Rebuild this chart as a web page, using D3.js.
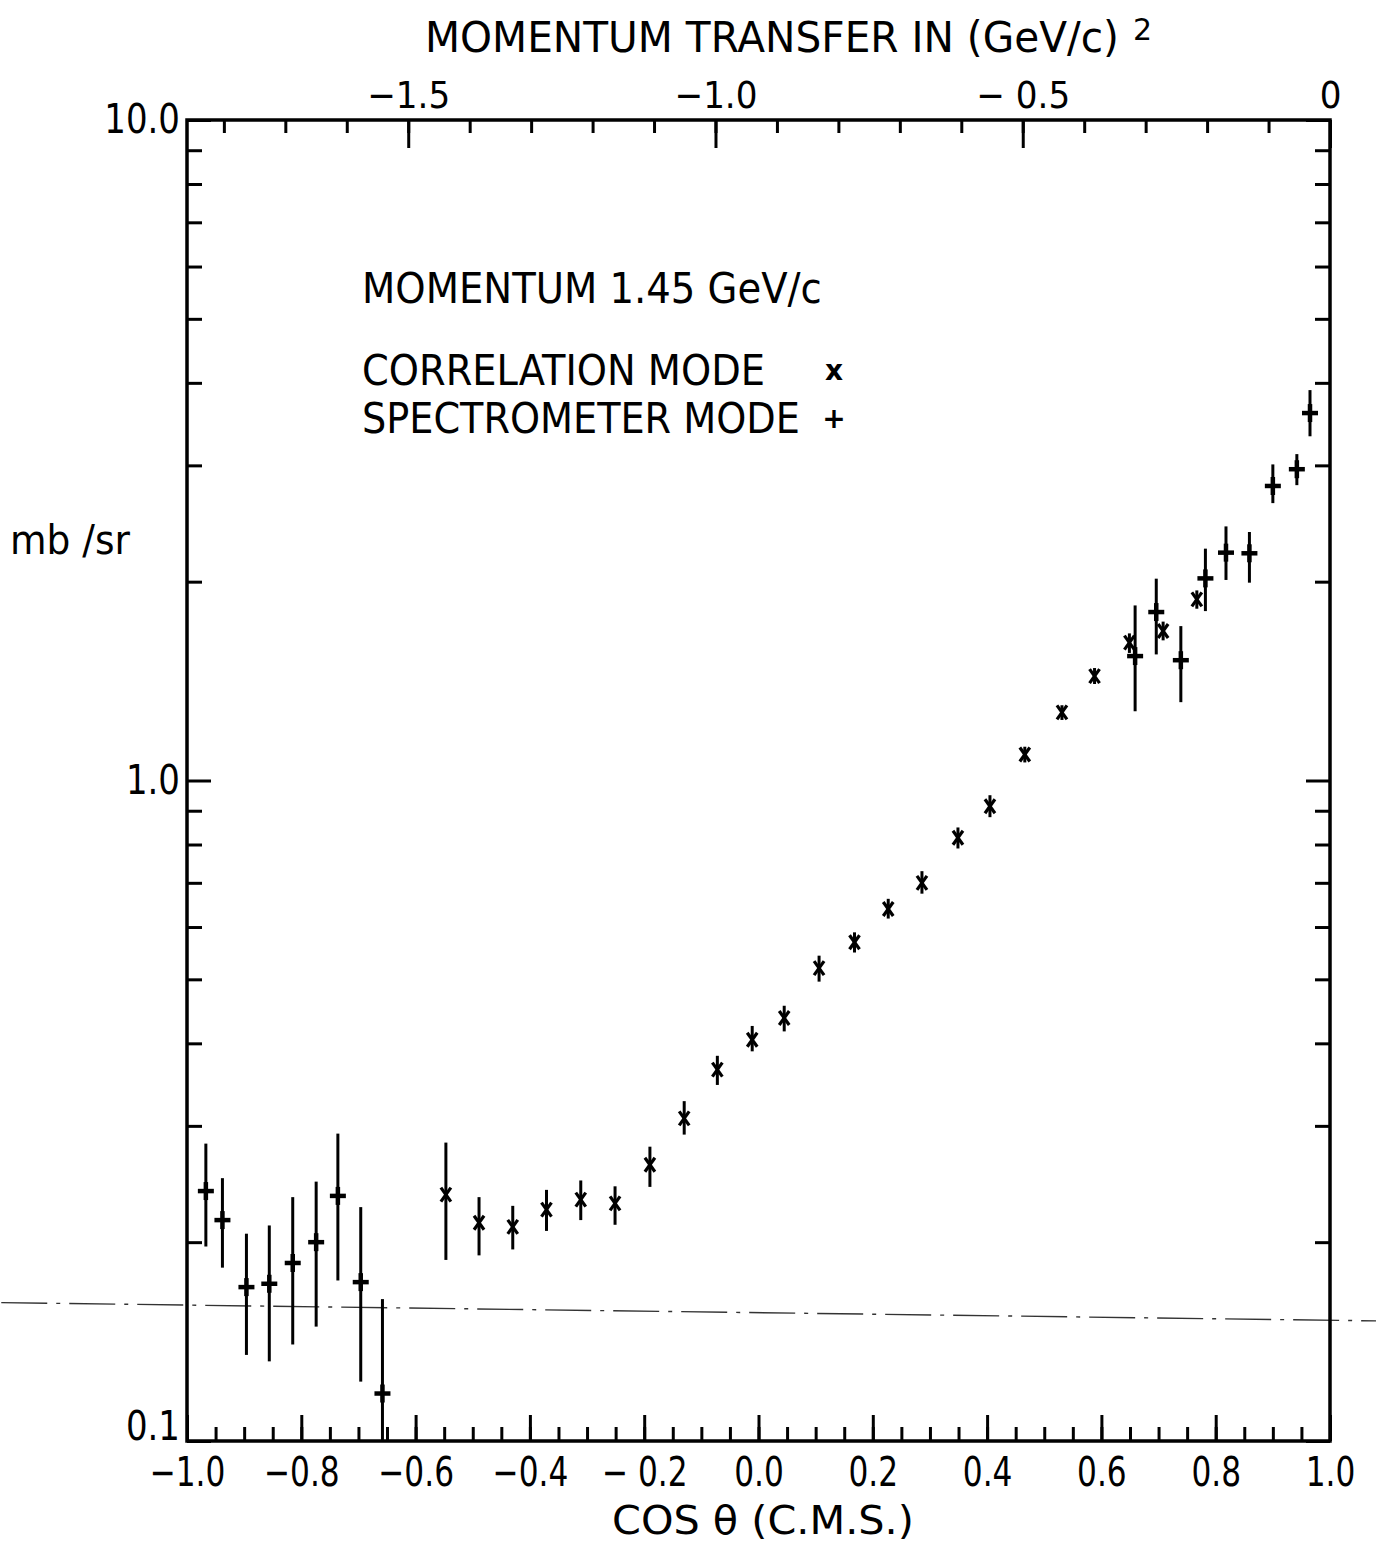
<!DOCTYPE html>
<html>
<head>
<meta charset="utf-8">
<script src="https://cdn.jsdelivr.net/npm/d3@7"></script>
<style>
  body { margin: 0; background: #fff; }
  svg { display: block; }
  text { font-family: "DejaVu Sans", sans-serif; fill: #000; }
</style>
</head>
<body>
<div id="chart"></div>
<script>
// Spectrometer mode (+) : cos theta, value, error low, error high (mb/sr)
const specCos = [-0.967, -0.938, -0.896, -0.856, -0.815, -0.774, -0.736, -0.696, -0.658,
                 0.659, 0.696, 0.739, 0.782, 0.818, 0.859, 0.900, 0.942, 0.965];
const specVal = [0.239, 0.216, 0.171, 0.173, 0.186, 0.200, 0.235, 0.174, 0.118,
                 1.543, 1.799, 1.521, 2.023, 2.213, 2.208, 2.792, 2.96, 3.60];
const specLo  = [0.197, 0.183, 0.135, 0.132, 0.140, 0.149, 0.175, 0.123, 0.100,
                 1.273, 1.552, 1.314, 1.805, 2.012, 1.993, 2.63, 2.80, 3.32];
const specHi  = [0.282, 0.250, 0.206, 0.212, 0.234, 0.247, 0.292, 0.226, 0.164,
                 1.841, 2.021, 1.713, 2.244, 2.425, 2.378, 3.01, 3.12, 3.90];

// Correlation mode (x)
const corrCos = [-0.547, -0.489, -0.430, -0.371, -0.311, -0.251, -0.190, -0.130, -0.072, -0.011,
                 0.045, 0.106, 0.168, 0.227, 0.286, 0.349, 0.405, 0.466, 0.531, 0.588,
                 0.649, 0.708, 0.767];
const corrVal = [0.236, 0.214, 0.211, 0.224, 0.232, 0.229, 0.262, 0.308, 0.365, 0.405,
                 0.437, 0.520, 0.569, 0.639, 0.700, 0.819, 0.914, 1.095, 1.268, 1.439,
                 1.617, 1.684, 1.88];
const corrLo  = [0.188, 0.191, 0.195, 0.208, 0.216, 0.2125, 0.2425, 0.291, 0.346, 0.389,
                 0.417, 0.496, 0.549, 0.618, 0.674, 0.789, 0.88, 1.065, 1.235, 1.40,
                 1.56, 1.63, 1.82];
const corrHi  = [0.283, 0.234, 0.227, 0.240, 0.248, 0.243, 0.279, 0.327, 0.383, 0.425,
                 0.456, 0.543, 0.589, 0.662, 0.729, 0.849, 0.95, 1.125, 1.30, 1.48,
                 1.67, 1.74, 1.94];

// Dash-dot reference line running across the whole sheet (ends beyond the frame)
const refCos = [-1.325, 1.081];
const refVal = [0.162, 0.152];

// Axis ticks and labels
const bottomMinor = d3.range(-1.0, 1.0001, 0.05).map(d => +d.toFixed(2));
const bottomMajor = [-1.0, -0.8, -0.6, -0.4, -0.2, 0.0, 0.2, 0.4, 0.6, 0.8, 1.0];
const bottomLabels = ["\u22121.0", "\u22120.8", "\u22120.6", "\u22120.4", "\u2212 0.2", "0.0", "0.2", "0.4", "0.6", "0.8", "1.0"];
const topMinor = d3.range(-1.8, 0.0001, 0.1).map(d => +d.toFixed(1));
const topMajor = [-1.5, -1.0, -0.5, 0];
const topLabels = ["\u22121.5", "\u22121.0", "\u2212 0.5", "0"];
const topDomain = [-1.86, 0];
const yMinor = [0.2, 0.3, 0.4, 0.5, 0.6, 0.7, 0.8, 0.9, 2, 3, 4, 5, 6, 7, 8, 9];
const yMajor = [0.1, 1, 10];
const yLabels = ["0.1", "1.0", "10.0"];

const width = 1376, height = 1546;
const margin = { top: 120, right: 46, bottom: 105, left: 187 };

const svg = d3.select("#chart").append("svg")
  .attr("width", width)
  .attr("height", height);

const x = d3.scaleLinear().domain([-1, 1]).range([margin.left, width - margin.right]);
const y = d3.scaleLog().domain([0.1, 10]).range([height - margin.bottom, margin.top]);
const xt = d3.scaleLinear().domain(topDomain).range([margin.left, width - margin.right]);

const x0 = margin.left, x1 = width - margin.right;
const y0 = height - margin.bottom, y1 = margin.top;

// reference line
svg.append("line")
  .attr("x1", x(refCos[0])).attr("y1", y(refVal[0]))
  .attr("x2", x(refCos[1])).attr("y2", y(refVal[1]))
  .attr("stroke", "#333").attr("stroke-width", 1.4)
  .attr("stroke-dasharray", "46,9,4,9");

function styleAxis(g) {
  g.select(".domain").remove();
  g.selectAll(".tick line").attr("stroke", "#000").attr("stroke-width", 3);
  g.selectAll(".tick text").style("font-size", "40px");
}

// squeeze tick labels horizontally, the original lettering is narrow
function narrow(g, f) {
  g.selectAll(".tick text").attr("transform", `scale(${f},1)`)
    .attr("x", function() { return +d3.select(this).attr("x") / f; });
}

// put a text at (px, py) and squeeze it to a given width
function label(str, px, py, size, w) {
  const t = svg.append("text").style("font-size", size + "px").text(str);
  const s = w / t.node().getComputedTextLength();
  t.attr("transform", `translate(${px},${py}) scale(${s},1)`);
  return t;
}

// bottom axis
svg.append("g").attr("transform", `translate(0,${y0})`)
  .call(d3.axisBottom(x).tickValues(bottomMinor).tickSize(-14).tickSizeOuter(0).tickFormat(""))
  .call(styleAxis);
svg.append("g").attr("transform", `translate(0,${y0})`)
  .call(d3.axisBottom(x).tickValues(bottomMajor).tickSize(-26).tickSizeOuter(0).tickPadding(17)
    .tickFormat((d, i) => bottomLabels[i]))
  .call(styleAxis)
  .call(g => narrow(g, 0.78));

// top axis (momentum transfer)
svg.append("g").attr("transform", `translate(0,${y1})`)
  .call(d3.axisTop(xt).tickValues(topMinor).tickSize(-13).tickSizeOuter(0).tickFormat(""))
  .call(styleAxis);
svg.append("g").attr("transform", `translate(0,${y1})`)
  .call(d3.axisTop(xt).tickValues(topMajor).tickSize(-28).tickSizeOuter(0).tickPadding(12)
    .tickFormat((d, i) => topLabels[i]))
  .call(styleAxis)
  .call(g => g.selectAll(".tick text").style("font-size", "38px"))
  .call(g => narrow(g, 0.9));

// left axis
svg.append("g").attr("transform", `translate(${x0},0)`)
  .call(d3.axisLeft(y).tickValues(yMinor).tickSize(-15).tickSizeOuter(0).tickFormat(""))
  .call(styleAxis);
svg.append("g").attr("transform", `translate(${x0},0)`)
  .call(d3.axisLeft(y).tickValues(yMajor).tickSize(-24).tickSizeOuter(0).tickPadding(7)
    .tickFormat((d, i) => yLabels[i]))
  .call(styleAxis)
  .call(g => g.selectAll(".tick text").attr("dy", (d, i) => i === 0 ? "-0.05em" : "0.32em"))
  .call(g => narrow(g, 0.85));

// right axis
svg.append("g").attr("transform", `translate(${x1},0)`)
  .call(d3.axisRight(y).tickValues(yMinor).tickSize(-15).tickSizeOuter(0).tickFormat(""))
  .call(styleAxis);
svg.append("g").attr("transform", `translate(${x1},0)`)
  .call(d3.axisRight(y).tickValues(yMajor).tickSize(-24).tickSizeOuter(0).tickFormat(""))
  .call(styleAxis);

// frame
svg.append("rect")
  .attr("x", x0).attr("y", y1)
  .attr("width", x1 - x0).attr("height", y0 - y1)
  .attr("fill", "none").attr("stroke", "#000").attr("stroke-width", 3.5);

// data
const spec = specCos.map((c, i) => ({ c, v: specVal[i], lo: specLo[i], hi: specHi[i] }));
const corr = corrCos.map((c, i) => ({ c, v: corrVal[i], lo: corrLo[i], hi: corrHi[i] }));

const marks = svg.append("g").attr("stroke", "#000").attr("stroke-linecap", "butt");

// error bars
marks.selectAll("line.err")
  .data(spec.concat(corr))
  .enter().append("line")
  .attr("class", "err")
  .attr("x1", d => x(d.c)).attr("x2", d => x(d.c))
  .attr("y1", d => y(d.lo)).attr("y2", d => y(d.hi))
  .attr("stroke-width", 3);

// spectrometer "+"
const plus = marks.selectAll("g.plus")
  .data(spec)
  .enter().append("g")
  .attr("class", "plus")
  .attr("transform", d => `translate(${x(d.c)},${y(d.v)})`);
plus.append("line").attr("x1", -8).attr("x2", 8).attr("y1", 0).attr("y2", 0).attr("stroke-width", 4.5);
plus.append("line").attr("x1", 0).attr("x2", 0).attr("y1", -9).attr("y2", 9).attr("stroke-width", 4.5);

// correlation "x"
const cross = marks.selectAll("g.cross")
  .data(corr)
  .enter().append("g")
  .attr("class", "cross")
  .attr("transform", d => `translate(${x(d.c)},${y(d.v)})`);
cross.append("line").attr("x1", -5).attr("x2", 5).attr("y1", -7).attr("y2", 7).attr("stroke-width", 3.2);
cross.append("line").attr("x1", 5).attr("x2", -5).attr("y1", -7).attr("y2", 7).attr("stroke-width", 3.2);

// titles and labels
label("MOMENTUM  TRANSFER  IN  (GeV/c)", 425, 52, 42, 694);
svg.append("text")
  .attr("x", 1133).attr("y", 40)
  .style("font-size", "30px")
  .text("2");

label("COS  \u03b8 (C.M.S.)", 612, 1534, 39, 302);
label("mb /sr", 10, 554, 40, 120);

// legend
const legend = [
  { text: "MOMENTUM  1.45  GeV/c", y: 303, len: 460, sym: "" },
  { text: "CORRELATION  MODE", y: 385, len: 403, sym: "x" },
  { text: "SPECTROMETER  MODE", y: 433, len: 438, sym: "+" }
];
legend.forEach(l => {
  label(l.text, 362, l.y, 42, l.len);
  if (l.sym) {
    svg.append("text")
      .attr("x", 834).attr("y", l.y - 5)
      .attr("text-anchor", "middle")
      .style("font-size", "28px")
      .style("font-weight", "bold")
      .text(l.sym);
  }
});
</script>
</body>
</html>
